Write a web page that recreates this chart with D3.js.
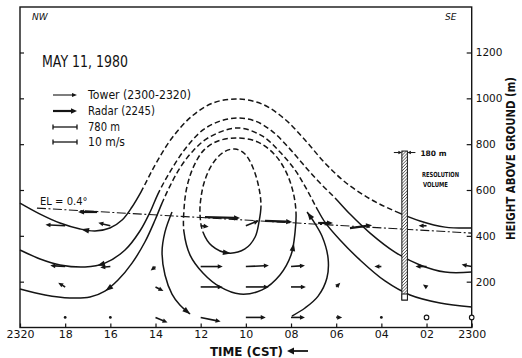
<!DOCTYPE html>
<html><head><meta charset="utf-8">
<script src="https://cdn.jsdelivr.net/npm/d3@7"></script>
<style>
html,body{margin:0;padding:0;background:#fff;}
svg{display:block;}
text{font-family:"DejaVu Sans","Liberation Sans",sans-serif;fill:#111;}
</style></head><body>
<svg id="chart" width="522" height="358"></svg>
<script>
// ---------------- data ----------------
// time = minutes after 2300 CST (axis runs 2320 -> 2300), height in m AGL
const timeTicks = [20, 18, 16, 14, 12, 10, 8, 6, 4, 2, 0];
const timeTickLabels = ["2320", "18", "16", "14", "12", "10", "08", "06", "04", "02", "2300"];
const heightTicks = [200, 400, 600, 800, 1000, 1200];
const heightTickLabels = ["200", "400", "600", "800", "1000", "1200"];

// streamlines, points in flow order [time, height]; *Inferred = index span drawn dashed (null = none)
const stream1 = [[0.00,434],[1.18,438],[2.29,465],[3.40,508],[4.50,561],[5.61,635],[6.50,718],[7.38,818],[8.27,909],[9.28,975],[10.39,997],[11.45,980],[12.38,923],[13.27,827],[14.02,709],[14.64,592],[15.04,526],[15.48,469],[16.02,434],[16.68,421],[17.34,430],[18.23,456],[19.11,495],[20.00,543]];
const stream1Inferred = [3, 15];
const stream2 = [[0.00,242],[1.18,242],[2.29,273],[3.40,329],[4.50,412],[5.39,495],[6.05,565],[6.80,639],[7.47,713],[8.13,788],[8.84,857],[9.59,901],[10.39,914],[11.14,901],[11.90,862],[12.69,779],[13.36,679],[13.89,583],[14.24,504],[14.69,421],[15.35,338],[16.24,281],[17.12,264],[18.23,273],[19.11,299],[20.00,338]];
const stream2Inferred = [6, 17];
const stream3 = [[0.00,89],[1.40,107],[2.73,142],[3.84,203],[4.95,295],[5.83,382],[6.50,460],[6.89,526],[7.34,609],[7.82,687],[8.49,766],[9.28,836],[10.39,871],[11.68,827],[12.38,766],[12.92,696],[13.36,617],[13.71,543],[14.02,469],[14.47,373],[15.04,281],[15.66,207],[16.24,159],[16.90,133],[17.79,129],[18.89,142],[20.00,168]];
const stream3Inferred = [7, 17];
const risingBranch = [[7.96,50],[7.38,85],[6.80,137],[6.41,216],[6.36,303],[6.63,399],[6.98,460],[7.29,504]];
const sinkingBranch = [[13.27,504],[13.58,417],[13.71,329],[13.58,229],[13.27,146],[12.92,98],[12.47,59]];
const loopOuter = [[12.74,513],[12.74,417],[12.47,316],[11.90,238],[11.14,177],[10.26,146],[9.28,164],[8.49,229],[8.00,316],[7.82,417],[7.78,504],[7.91,592],[8.22,679],[8.71,753],[9.46,809],[10.39,827],[11.23,814],[11.85,775],[12.30,705],[12.61,613],[12.74,513]];
const loopOuterInferred = [10, 20];
const loopInner = [[12.03,495],[11.90,417],[11.50,356],[10.79,325],[10.04,343],[9.59,395],[9.42,460],[9.33,530],[9.42,609],[9.68,696],[10.04,757],[10.48,779],[10.97,766],[11.45,718],[11.81,644],[11.99,565],[12.03,495]];
const loopInnerInferred = [7, 16];

// arrowheads on streamlines: [streamline index, time, height]
const streamArrows = [[0,17.12,425],[1,16.46,286],[2,16.15,177],[3,7.27,482],[4,12.62,68],[5,7.91,351],[6,10.83,329]];

// radar elevation scan line (EL = 0.4 deg): [time, height]
const elevationLine = [[19.25,521],[0.00,412]];

// radar winds (2245) along the scan: time, height, u (m/s, + toward SE), w (m/s)
const radarTime = [16.59, 11.81, 9.15, 6.80, 5.39];
const radarHeight = [504, 482, 465, 456, 434];
const radarU = [-7.9, 14.6, 11.3, 6.2, 9.2];
const radarW = [0, -0.4, -0.4, 0, 1.2];

// tower winds (2300-2320)
const towerTimes = [18, 16, 14, 12, 10, 8, 6, 4, 2, 0];
const towerHeights = [444, 266, 177, 44];
const towerU444 = [-8.2, -5.0, NaN, 3.3, 5.4, NaN, NaN, NaN, -3.3, NaN];
const towerW444 = [0.4, 1.2, NaN, -0.4, 2.1, NaN, NaN, NaN, 0, NaN];
const towerU266 = [-6.2, -4.2, -2.0, 9.2, 9.6, 5.8, NaN, -2.9, -4.6, -4.2];
const towerW266 = [0.4, -0.4, -1.7, 0, 0.4, 0.4, NaN, 0, 0, 0.8];
const towerU177 = [-2.9, NaN, 3.3, 9.2, 9.6, 6.2, 1.7, NaN, -1.5, NaN];
const towerW177 = [1.7, NaN, -1.7, 0, 0, 0, 1.7, NaN, 1.0, NaN];
const towerU44 = [0, 0, 5.0, 8.3, 8.3, 5.8, 2.5, 0, NaN, NaN];
const towerW44 = [0, 0, -2.1, -1.7, 0, 0, 0, 0, NaN, NaN];
const towerCalm = [[2, 44], [0, 44]];

// resolution volume
const resolutionTime = 2.97, resolutionTop = 770, resolutionBottom = 120, resolutionWidthM = 180;
// legend scales
const legendDistance = 780, legendSpeed = 10;

// ---------------- drawing ----------------
const svg = d3.select("#chart");
const F = {left: 20, right: 471.7, top: 7, bottom: 327.5};
const x = d3.scaleLinear().domain([20, 0]).range([F.left, F.right]);
const y = d3.scaleLinear().domain([0, 1200]).range([327.5, 52.5]);
const speedPx = d3.scaleLinear().domain([0, legendSpeed]).range([0, 24]);
const distPx = d3.scaleLinear().domain([0, legendDistance]).range([0, 24]);
const ink = "#151515";

// hatch pattern
const defs = svg.append("defs");
const pat = defs.append("pattern").attr("id","hatch").attr("patternUnits","userSpaceOnUse")
  .attr("width",2.2).attr("height",2.2).attr("patternTransform","rotate(45)");
pat.append("rect").attr("width",2.2).attr("height",2.2).attr("fill","#fff");
pat.append("line").attr("x1",0).attr("y1",0).attr("x2",0).attr("y2",2.2).attr("stroke","#333").attr("stroke-width",1.2);

// frame
svg.append("rect").attr("x",F.left).attr("y",F.top).attr("width",F.right-F.left).attr("height",F.bottom-F.top)
  .attr("fill","none").attr("stroke",ink).attr("stroke-width",1.4);

// axes
const gx = svg.append("g").attr("transform",`translate(0,${F.bottom})`)
  .call(d3.axisBottom(x).tickValues(timeTicks).tickFormat((d,i)=>timeTickLabels[i]).tickSize(-4).tickPadding(3));
const gr = svg.append("g").attr("transform",`translate(${F.right},0)`)
  .call(d3.axisRight(y).tickValues(heightTicks).tickFormat((d,i)=>heightTickLabels[i]).tickSize(-5).tickPadding(4));
const gl = svg.append("g").attr("transform",`translate(${F.left},0)`)
  .call(d3.axisLeft(y).tickValues(heightTicks).tickFormat("").tickSize(-4));
[gx,gr,gl].forEach(g=>{g.select(".domain").remove(); g.selectAll(".tick line").attr("stroke",ink).attr("stroke-width",1.2);});
gx.selectAll("text").attr("font-size",11).attr("fill",ink).attr("font-family","DejaVu Sans");
gr.selectAll("text").attr("font-size",10.5).attr("fill",ink).attr("font-family","DejaVu Sans");

// axis titles
svg.append("text").attr("x",210).attr("y",356).attr("font-size",12.5).attr("font-weight","bold")
  .attr("textLength",73).attr("lengthAdjust","spacingAndGlyphs").text("TIME (CST)");
svg.append("line").attr("x1",308).attr("x2",291).attr("y1",351).attr("y2",351).attr("stroke",ink).attr("stroke-width",1.8);
svg.append("path").attr("d","M287,351 L294,347.5 L294,354.5 Z").attr("fill",ink);
svg.append("text").attr("transform","translate(515,158.5) rotate(-90)").attr("text-anchor","middle")
  .attr("font-size",13).attr("font-weight","bold").attr("textLength",163).attr("lengthAdjust","spacingAndGlyphs")
  .text("HEIGHT ABOVE GROUND (m)");

svg.append("text").attr("x",32).attr("y",20).attr("font-size",9).attr("font-style","italic").text("NW");
svg.append("text").attr("x",445).attr("y",20).attr("font-size",9).attr("font-style","italic").text("SE");

// title + legend
svg.append("text").attr("x",42).attr("y",67).attr("font-size",15.5).attr("font-family","Liberation Sans")
  .attr("textLength",86).attr("lengthAdjust","spacingAndGlyphs").text("MAY 11, 1980");

function arrow(g, x0, y0, x1, y1, sw, hl, hw) {
  const dx = x1-x0, dy = y1-y0, L = Math.hypot(dx,dy);
  if (L < 2) { g.append("circle").attr("cx",x0).attr("cy",y0).attr("r",1.4).attr("fill",ink); return; }
  const ux = dx/L, uy = dy/L;
  const bx = x1-ux*hl, by = y1-uy*hl;
  g.append("line").attr("x1",x0).attr("y1",y0).attr("x2",bx+ux*0.5).attr("y2",by+uy*0.5)
    .attr("stroke",ink).attr("stroke-width",sw).attr("stroke-linecap","butt");
  g.append("path").attr("d",`M${x1},${y1} L${bx-uy*hw},${by+ux*hw} L${bx+uy*hw},${by-ux*hw} Z`).attr("fill",ink);
}
const leg = svg.append("g");
const lx0 = 53;
arrow(leg, lx0, 95, lx0+speedPx(legendSpeed), 95, 1.1, 5, 2);
arrow(leg, lx0, 111, lx0+speedPx(legendSpeed), 111, 2.2, 6, 2.8);
function scaleBar(yy, len){
  leg.append("line").attr("x1",lx0).attr("x2",lx0+len).attr("y1",yy).attr("y2",yy).attr("stroke",ink).attr("stroke-width",1.3);
  [lx0, lx0+len].forEach(xx=>leg.append("line").attr("x1",xx).attr("x2",xx).attr("y1",yy-2.5).attr("y2",yy+2.5).attr("stroke",ink).attr("stroke-width",1.3));
}
scaleBar(127, distPx(legendDistance));
scaleBar(142, speedPx(legendSpeed));
[["Tower (2300-2320)",95,103],["Radar (2245)",111,67],["780 m",127,32],["10 m/s",142,37]].forEach(([t,yy,w])=>{
  leg.append("text").attr("x",88).attr("y",yy+4.3).attr("font-size",12).attr("font-family","Liberation Sans")
    .attr("textLength",w).attr("lengthAdjust","spacingAndGlyphs").text(t);
});

// elevation line
const line = d3.line().x(d=>x(d[0])).y(d=>y(d[1]));
svg.append("path").attr("d",line(elevationLine)).attr("fill","none").attr("stroke",ink)
  .attr("stroke-width",1.1).attr("stroke-dasharray","9,2.5,2,2.5");
svg.append("text").attr("x",40).attr("y",205).attr("font-size",10).text("EL = 0.4°");

// streamlines
const streams = [[stream1,stream1Inferred],[stream2,stream2Inferred],[stream3,stream3Inferred],
  [risingBranch,null],[sinkingBranch,null],[loopOuter,loopOuterInferred],[loopInner,loopInnerInferred]];
const sg = svg.append("g");
const streamNodes = [];
streams.forEach(([pts, inf])=>{
  const n = pts.length;
  const closed = pts[0][0]===pts[n-1][0] && pts[0][1]===pts[n-1][1];
  const p = closed ? pts.slice(0,-1) : pts;
  const ln = d3.line().x(d=>x(d[0])).y(d=>y(d[1]))
    .curve(closed ? d3.curveCatmullRomClosed.alpha(0.5) : d3.curveCatmullRom.alpha(0.5));
  const path = sg.append("path").attr("d", ln(p)).attr("fill","none").attr("stroke",ink).attr("stroke-width",1.5);
  const node = path.node(); const L = node.getTotalLength();
  const samples = [];
  for (let l=0; l<=L; l+=0.5) { const q=node.getPointAtLength(l); samples.push([l,q.x,q.y]); }
  streamNodes.push({node, samples, L});
  if (!inf) return;
  function lenAt(pt, from){
    const px=x(pt[0]), py=y(pt[1]); let best=null, bd=1e9;
    samples.forEach(s=>{ if (s[0]<from) return; const d=(s[1]-px)**2+(s[2]-py)**2; if(d<bd){bd=d;best=s[0];} });
    return best;
  }
  const a = lenAt(pts[inf[0]], 0);
  const b = (closed && inf[1]===n-1) ? L : lenAt(pts[inf[1]], a+1);
  const arr = [Math.max(a,0.01)]; let cur = a;
  while (cur < b) { arr.push(3); cur += 3; const d = Math.max(0.01, Math.min(5.5, b-cur)); arr.push(d); cur += d; }
  arr.push(0, L-b+2);
  path.attr("stroke-dasharray", arr.map(v=>v.toFixed(2)).join(","));
});
streamArrows.forEach(([k,t,h])=>{
  const S = streamNodes[k]; const px=x(t), py=y(h);
  let best=0, bd=1e9; S.samples.forEach(s=>{const d=(s[1]-px)**2+(s[2]-py)**2; if(d<bd){bd=d;best=s[0];}});
  const p0 = S.node.getPointAtLength(Math.max(0,best-1.5)), p1 = S.node.getPointAtLength(Math.min(S.L,best+1.5));
  const c = S.node.getPointAtLength(best);
  let ux=p1.x-p0.x, uy=p1.y-p0.y; const l=Math.hypot(ux,uy); ux/=l; uy/=l;
  const tipx=c.x+ux*4, tipy=c.y+uy*4, bx=c.x-ux*4, by=c.y-uy*4;
  sg.append("path").attr("d",`M${tipx},${tipy} L${bx-uy*2.8},${by+ux*2.8} L${bx+uy*2.8},${by-ux*2.8} Z`).attr("fill",ink);
});

// radar vectors
const vg = svg.append("g");
radarTime.forEach((t,i)=>{
  const x0=x(t), y0=y(radarHeight[i]);
  arrow(vg, x0, y0, x0+speedPx(radarU[i]), y0-speedPx(radarW[i]), 2.2, 6, 2.6);
});
// tower vectors
const towerU = [towerU444, towerU266, towerU177, towerU44];
const towerW = [towerW444, towerW266, towerW177, towerW44];
towerHeights.forEach((h,j)=>{
  towerTimes.forEach((t,i)=>{
    const u = towerU[j][i], w = towerW[j][i];
    if (isNaN(u)) return;
    const x0=x(t), y0=y(h);
    arrow(vg, x0, y0, x0+speedPx(u), y0-speedPx(w), 1.6, 5, 2.3);
  });
});
towerCalm.forEach(([t,h])=>{
  vg.append("circle").attr("cx",x(t)).attr("cy",y(h)).attr("r",2.3).attr("fill","#fff").attr("stroke",ink).attr("stroke-width",1.1);
});

// resolution volume
const rw = distPx(resolutionWidthM);
const rx = x(resolutionTime)-rw/2;
svg.append("rect").attr("x",rx).attr("y",y(resolutionTop)).attr("width",rw)
  .attr("height",y(resolutionBottom)-y(resolutionTop)).attr("fill","url(#hatch)").attr("stroke",ink).attr("stroke-width",1);
svg.append("rect").attr("x",rx).attr("y",y(resolutionBottom)-6).attr("width",rw).attr("height",6)
  .attr("fill","#fff").attr("stroke",ink).attr("stroke-width",1);
const ry = y(resolutionTop)+1.5;
arrow(svg, rx-8, ry, rx, ry, 1, 3.5, 1.8);
arrow(svg, rx+rw+8, ry, rx+rw, ry, 1, 3.5, 1.8);
svg.append("text").attr("x",rx+rw+13).attr("y",ry+3).attr("font-size",7.5).attr("font-weight","bold").text("180 m");
svg.append("text").attr("x",422).attr("y",177).attr("font-size",7).attr("font-weight","bold")
  .attr("textLength",37).attr("lengthAdjust","spacingAndGlyphs").text("RESOLUTION");
svg.append("text").attr("x",423).attr("y",187).attr("font-size",7).attr("font-weight","bold")
  .attr("textLength",25).attr("lengthAdjust","spacingAndGlyphs").text("VOLUME");
</script>
</body></html>
